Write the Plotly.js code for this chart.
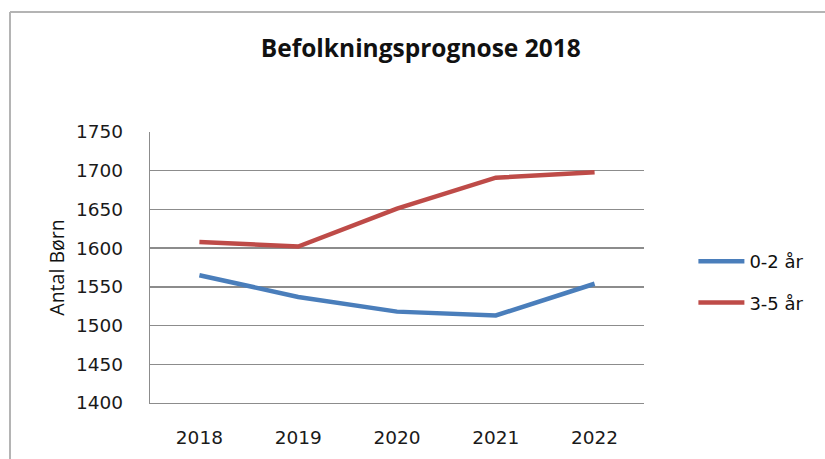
<!DOCTYPE html>
<html>
<head>
<meta charset="utf-8">
<script src="https://cdn.plot.ly/plotly-3.0.1.min.js"></script>
<style>html,body{margin:0;padding:0;background:#fff;}#chart{width:825px;height:459px;}</style>
</head>
<body>
<div id="chart"></div>
<script>
const years = ["2018", "2019", "2020", "2021", "2022"];
const seriesNames = ["0-2 år", "3-5 år"];
const age0to2 = [1565, 1537, 1518, 1513, 1554];
const age3to5 = [1608, 1602, 1651, 1691, 1698];
const yTicks = [1400, 1450, 1500, 1550, 1600, 1650, 1700, 1750];
const chartTitle = "Befolkningsprognose 2018";
const yTitle = "Antal Børn";

const tickFont = {family: "'DejaVu Sans', sans-serif", size: 18.5, color: "#1a1a1a"};

const traces = [
  {x: years, y: age0to2, name: seriesNames[0], type: "scatter", mode: "lines",
   line: {color: "#4a7ebb", width: 4.5}, legendgroup: "a", hoverinfo: "x+y"},
  {x: years, y: age3to5, name: seriesNames[1], type: "scatter", mode: "lines",
   line: {color: "#be4b48", width: 4.5}, legendgroup: "b", hoverinfo: "x+y"}
];

const layout = {
  width: 825, height: 459,
  margin: {l: 150, r: 181, t: 132, b: 56},
  paper_bgcolor: "#fff", plot_bgcolor: "#fff",
  title: {text: "<b>" + chartTitle + "</b>", x: 0.51, xanchor: "center", y: 0.895, yanchor: "middle",
          font: {family: "'Open Sans', sans-serif", size: 24.5, color: "#111"}},
  xaxis: {
    type: "category", range: [-0.5, 4.5],
    showgrid: false, zeroline: false,
    showline: true, linecolor: "#8c8c8c", linewidth: 1.3,
    ticks: "", tickfont: tickFont, ticklabelstandoff: 17
  },
  yaxis: {
    range: [1400, 1750], tickvals: yTicks, ticktext: yTicks.map(String),
    showgrid: true, gridcolor: "#8c8c8c", gridwidth: 1.3,
    zeroline: false, showline: true, linecolor: "#8c8c8c", linewidth: 1.3,
    ticks: "", tickfont: tickFont, ticklabelstandoff: 22,
    title: {text: yTitle, standoff: 6, font: {family: "'Open Sans', sans-serif", size: 19.5, color: "#111"}}
  },
  showlegend: true,
  legend: {x: 1.1, xanchor: "left", y: 0.4465, yanchor: "middle",
           font: {family: "'DejaVu Sans', sans-serif", size: 18, color: "#111"},
           tracegroupgap: 15, itemwidth: 46, bgcolor: "rgba(0,0,0,0)"},
  shapes: [
    {type: "line", xref: "paper", yref: "paper", x0: -0.2834, x1: 2, y0: 1.4428, y1: 1.4428,
     line: {color: "#b4b4b4", width: 2}},
    {type: "line", xref: "paper", yref: "paper", x0: -0.2834, x1: -0.2834, y0: 1.4428, y1: -1,
     line: {color: "#b4b4b4", width: 2}}
  ]
};

Plotly.newPlot("chart", traces, layout, {displayModeBar: false, staticPlot: true});
</script>
</body>
</html>
